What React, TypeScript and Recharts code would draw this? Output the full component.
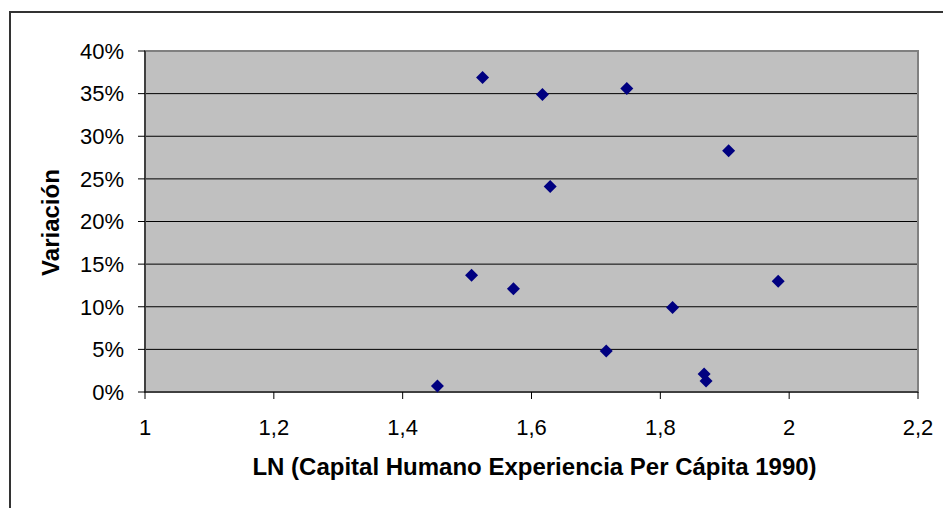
import { ScatterChart, Scatter, XAxis, YAxis, CartesianGrid, ReferenceArea } from 'recharts'

// LN (Capital Humano Experiencia Per Cápita 1990) vs Variación (%)
const lnCapital = [1.454, 1.507, 1.524, 1.572, 1.617, 1.629, 1.748, 1.716, 1.819, 1.906, 1.868, 1.871, 1.983]
const variacion = [0.7, 13.7, 36.9, 12.1, 34.9, 24.1, 35.6, 4.8, 9.9, 28.3, 2.1, 1.3, 13.0]

const xTicks = [1, 1.2, 1.4, 1.6, 1.8, 2, 2.2]
const yTicks = [0, 5, 10, 15, 20, 25, 30, 35, 40]

const FONT = '"Liberation Sans", Arial, sans-serif'

function Diamond(props: any) {
  const { cx, cy } = props
  const r = 6.5
  return (
    <polygon
      points={`${cx},${cy - r} ${cx + r},${cy} ${cx},${cy + r} ${cx - r},${cy}`}
      fill="#000080"
    />
  )
}

export default function App() {
  const data = lnCapital.map((x, i) => ({ x, y: variacion[i] }))
  const tick = { fill: '#000', fontSize: 22, fontFamily: FONT }

  return (
    <div style={{ position: 'absolute', left: 0, top: 0, width: 943, height: 508, overflow: 'hidden', background: '#fff' }}>
      <div style={{ position: 'absolute', left: 9, top: 11, width: 1000, height: 600, border: '2px solid #333' }} />
      <div style={{ position: 'absolute', left: 0, top: 0 }}>
        <ScatterChart width={943} height={508} margin={{ top: 51, right: 25, bottom: 0, left: 0 }}>
          <CartesianGrid vertical={false} stroke="#000" fill="#c0c0c0" fillOpacity={1} />
          <ReferenceArea x1={1} x2={2.2} y1={0} y2={40} fill="none" stroke="#808080" strokeWidth={2} />
          <XAxis
            type="number"
            dataKey="x"
            domain={[1, 2.2]}
            ticks={xTicks}
            tickFormatter={(v: number) => String(v).replace('.', ',')}
            height={116}
            tickSize={7}
            tickMargin={20}
            tick={tick}
            axisLine={{ stroke: '#000' }}
            tickLine={{ stroke: '#000' }}
            label={{
              content: (p: any) => (
                <text
                  x={p.viewBox.x + p.viewBox.width / 2 + 3}
                  y={p.viewBox.y + 83}
                  textAnchor="middle"
                  fontFamily={FONT}
                  fontSize={24}
                  fontWeight="bold"
                  fill="#000"
                >
                  LN (Capital Humano Experiencia Per Cápita 1990)
                </text>
              ),
            }}
          />
          <YAxis
            type="number"
            dataKey="y"
            domain={[0, 40]}
            ticks={yTicks}
            tickFormatter={(v: number) => `${v}%`}
            width={145}
            tickSize={7}
            tickMargin={14}
            tick={tick}
            axisLine={{ stroke: '#000' }}
            tickLine={{ stroke: '#000' }}
            label={{
              content: (p: any) => {
                const cx = 59
                const cy = p.viewBox.y + p.viewBox.height / 2 + 1
                return (
                  <text
                    x={cx}
                    y={cy}
                    transform={`rotate(-90, ${cx}, ${cy})`}
                    textAnchor="middle"
                    fontFamily={FONT}
                    fontSize={24}
                    fontWeight="bold"
                    fill="#000"
                  >
                    Variación
                  </text>
                )
              },
            }}
          />
          <Scatter data={data} shape={Diamond} isAnimationActive={false} />
        </ScatterChart>
      </div>
    </div>
  )
}
